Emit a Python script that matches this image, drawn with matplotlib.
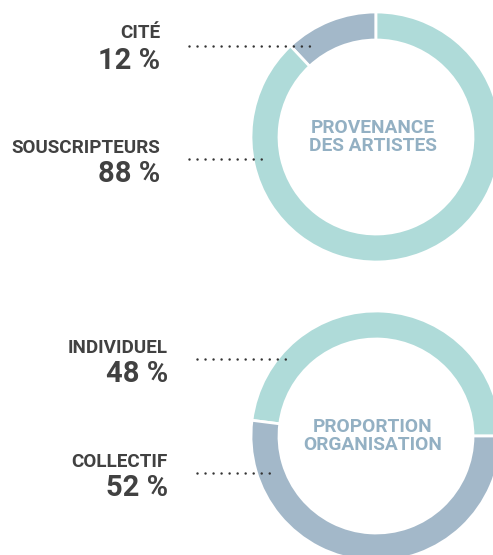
import matplotlib.pyplot as plt

# top donut: provenance des artistes
prov_labels = ["CITÉ", "SOUSCRIPTEURS"]
prov_values = [12, 88]
# bottom donut: proportion organisation
org_labels = ["INDIVIDUEL", "COLLECTIF"]
org_values = [48, 52]

teal = "#afdbd9"
slate = "#a3b8c9"
title_col = "#93b0c3"
text_col = "#414141"

W, H = 493, 555
fig = plt.figure(figsize=(W / 100, H / 100), dpi=100)
ax = fig.add_axes([0, 0, 1, 1])

ring = dict(width=28, edgecolor="white", linewidth=2)
ax.pie(prov_values, center=(376, H - 137), radius=125, startangle=90,
       counterclock=True, colors=[slate, teal], wedgeprops=ring)
ax.pie(org_values, center=(376, H - 436), radius=125, startangle=0,
       counterclock=True, colors=[teal, slate], wedgeprops=ring)

ax.set_xlim(0, W)
ax.set_ylim(0, H)
ax.set_aspect("equal")
ax.axis("off")

font = ["Roboto", "DejaVu Sans"]


def label(x, y_name, y_pct, name, pct, x0, x1, y_dot):
    ax.text(x, H - y_name, name, ha="right", va="center", fontsize=13.6,
            fontweight="bold", color=text_col, family=font)
    ax.text(x, H - y_pct, f"{pct} %", ha="right", va="center", fontsize=21,
            fontweight="bold", color=text_col, family=font)
    ax.plot([x0, x1], [H - y_dot, H - y_dot], color="#333333", lw=1.8,
            linestyle=(0, (0.01, 3.2)), dash_capstyle="round")


label(160, 33, 61, prov_labels[0], prov_values[0], 189, 314, 46)
label(160, 148, 174, prov_labels[1], prov_values[1], 189, 262, 159)
label(168, 348, 374, org_labels[0], org_values[0], 197, 288, 359)
label(168, 462, 488, org_labels[1], org_values[1], 197, 270, 473)

for cy, lines in [(137, ["PROVENANCE", "DES ARTISTES"]),
                  (436, ["PROPORTION", "ORGANISATION"])]:
    ax.text(373, H - cy, "\n".join(lines), ha="center", va="center",
            fontsize=13.8, fontweight="bold", color=title_col, family=font,
            linespacing=0.95)

fig.savefig("out.png", dpi=100)
